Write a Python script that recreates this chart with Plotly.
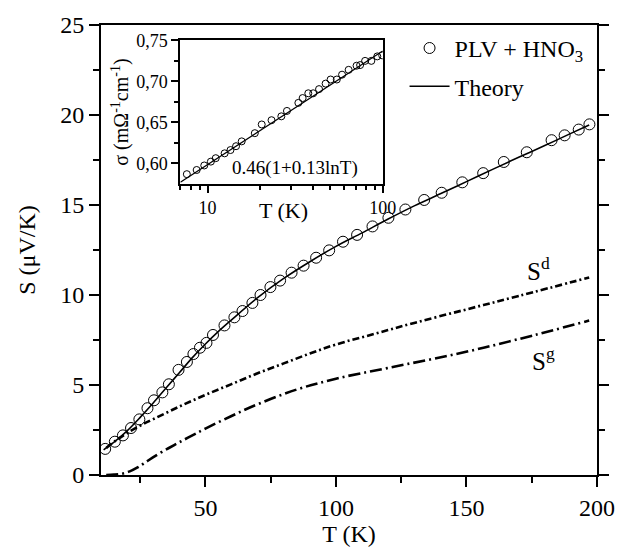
import plotly.graph_objects as go

# ---- main panel data ----
T_data = [11.6, 15.3, 18.4, 21.5, 24.7, 27.8, 30.3, 33.5, 36.0, 39.7, 42.9, 45.4, 47.9, 50.4, 52.9,
          57.3, 61.1, 64.2, 68.0, 71.1, 74.9, 78.6, 83.0, 87.6, 92.4, 97.4, 102.7, 108.1, 114.0,
          120.1, 126.6, 133.8, 140.5, 148.4, 156.4, 164.3, 173.1, 182.6, 187.6, 193.0, 197.1]
S_data = [1.45, 1.85, 2.20, 2.61, 3.09, 3.71, 4.15, 4.59, 5.04, 5.84, 6.28, 6.72, 7.07, 7.34, 7.78,
          8.31, 8.76, 9.11, 9.56, 10.00, 10.44, 10.80, 11.24, 11.63, 12.07, 12.48, 12.96, 13.34, 13.81,
          14.29, 14.75, 15.28, 15.68, 16.26, 16.77, 17.39, 17.93, 18.60, 18.87, 19.19, 19.48]

T_theory = [11, 15, 20, 25, 30, 35, 40, 45, 50, 55, 60, 70, 80, 90, 100, 110, 120, 130, 140,
            150, 160, 170, 180, 190, 197]
S_theory = [1.40, 1.82, 2.45, 3.20, 4.00, 4.85, 5.68, 6.52, 7.28, 7.98, 8.62, 9.85, 10.92, 11.85,
            12.70, 13.45, 14.22, 14.95, 15.62, 16.30, 16.98, 17.65, 18.30, 18.98, 19.45]

T_Sd = [12, 16, 20, 25, 30, 40, 50, 60, 70, 80, 90, 100, 115, 130, 150, 170, 197]
S_d = [1.5, 1.95, 2.33, 2.74, 3.1, 3.8, 4.45, 5.05, 5.65, 6.2, 6.75, 7.25, 7.85, 8.45, 9.2, 9.95, 10.97]

T_Sg = [12, 15, 18, 21, 24, 27, 31, 36, 40, 45, 50, 60, 70, 85, 100, 120, 146, 170, 197]
S_g = [0.0, 0.02, 0.07, 0.2, 0.42, 0.7, 1.08, 1.5, 1.82, 2.2, 2.58, 3.28, 3.93, 4.75, 5.35, 5.95,
       6.72, 7.55, 8.58]

# ---- inset data ----
T_inset = [7.62, 8.67, 9.58, 10.45, 11.14, 12.52, 13.52, 14.55, 15.67, 18.62, 20.39, 23.19, 26.38,
           28.4, 33.0, 34.9, 37.6, 40.1, 43.3, 47.2, 50.4, 54.7, 58.6, 63.9, 70.9, 74.3, 79.3,
           86.1, 93.1, 99.3]
sigma_inset = [0.5868, 0.5919, 0.5974, 0.6021, 0.6063, 0.6122, 0.6162, 0.6209, 0.6268, 0.6368,
               0.6474, 0.6526, 0.6573, 0.6639, 0.6737, 0.6796, 0.6854, 0.6854, 0.6905, 0.6972,
               0.7022, 0.7022, 0.7081, 0.7140, 0.7190, 0.7198, 0.7249, 0.7249, 0.7304, 0.7316]
T_inset_fit = [7.0, 100.0]
sigma_inset_fit = [0.577, 0.737]

x_ticks = [50, 100, 150, 200]
x_minor = [25, 75, 125, 175]
y_ticks = [0, 5, 10, 15, 20, 25]
y_minor = [2.5, 7.5, 12.5, 17.5, 22.5]
inset_y_ticks = [0.60, 0.65, 0.70, 0.75]
inset_y_labels = ["0,60", "0,65", "0,70", "0,75"]
inset_y_minor = [0.625, 0.675, 0.725]
inset_x_ticks = [10, 100]
inset_x_minor = [7, 8, 9, 20, 30, 40, 50, 60, 70, 80, 90]

FONT = "Liberation Serif"

fig = go.Figure()
fig.add_trace(go.Scatter(x=T_Sd, y=S_d, mode="lines", showlegend=False,
                         line=dict(color="black", width=2.6, dash="7px,3px,2px,3px", shape="spline")))
fig.add_trace(go.Scatter(x=T_Sg, y=S_g, mode="lines", showlegend=False,
                         line=dict(color="black", width=2.6, dash="12px,4px,2px,4px", shape="spline")))
fig.add_trace(go.Scatter(x=T_data, y=S_data, mode="markers", name="PLV + HNO<sub>3</sub>",
                         legendgroup="a",
                         marker=dict(symbol="circle-open", size=11, color="black", line=dict(width=1))))
fig.add_trace(go.Scatter(x=T_theory, y=S_theory, mode="lines", name="Theory", legendgroup="b",
                         line=dict(color="black", width=1.6, shape="spline")))

# inset
fig.add_trace(go.Scatter(x=T_inset, y=sigma_inset, mode="markers", showlegend=False,
                         xaxis="x2", yaxis="y2",
                         marker=dict(symbol="circle-open", size=7, color="black", line=dict(width=1))))
fig.add_trace(go.Scatter(x=T_inset_fit, y=sigma_inset_fit, mode="lines", showlegend=False,
                         xaxis="x2", yaxis="y2", line=dict(color="black", width=1.3)))

axis_common = dict(showgrid=False, zeroline=False, showline=True, linecolor="black",
                   ticks="outside", tickcolor="black", color="black")

fig.update_layout(
    width=627, height=554,
    margin=dict(l=101, r=21, t=13, b=71),
    paper_bgcolor="white", plot_bgcolor="white",
    font=dict(family=FONT, size=24, color="black"),
    showlegend=True,
    legend=dict(x=0.612, y=0.998, xanchor="left", yanchor="top", bgcolor="rgba(0,0,0,0)",
                font=dict(family=FONT, size=24), traceorder="grouped", tracegroupgap=4,
                itemwidth=40),
    xaxis=dict(**axis_common, range=[10, 200], tickvals=x_ticks, linewidth=2, tickwidth=2, ticklen=10,
               mirror=True, tickfont=dict(size=24, family=FONT),
               minor=dict(tickvals=x_minor, ticks="outside", ticklen=6, tickwidth=2, tickcolor="black"),
               title=dict(text="T (K)", font=dict(size=24, family=FONT), standoff=4)),
    yaxis=dict(**axis_common, range=[0, 25], tickvals=y_ticks, linewidth=2, tickwidth=2, ticklen=10,
               mirror="ticks", tickfont=dict(size=24, family=FONT),
               minor=dict(tickvals=y_minor, ticks="outside", ticklen=6, tickwidth=2, tickcolor="black"),
               title=dict(text="S (\u03bcV/K)", font=dict(size=24, family=FONT), standoff=18)),
    xaxis2=dict(**axis_common, type="log", range=[0.845, 2.0], domain=[0.160, 0.568], anchor="y2",
                tickvals=inset_x_ticks, ticktext=["10", "100"], linewidth=2, tickwidth=1.5, ticklen=7,
                mirror=True, tickfont=dict(size=18, family=FONT),
                minor=dict(tickvals=inset_x_minor, ticks="outside", ticklen=4, tickwidth=1.5, tickcolor="black")),
    yaxis2=dict(**axis_common, range=[0.575, 0.75], domain=[0.647, 0.966], anchor="x2",
                tickvals=inset_y_ticks, ticktext=inset_y_labels, linewidth=2, tickwidth=1.5, ticklen=7,
                mirror=True, tickfont=dict(size=18, family=FONT),
                minor=dict(tickvals=inset_y_minor, ticks="outside", ticklen=4, tickwidth=1.5, tickcolor="black"),
                title=dict(text="\u03c3 (m\u03a9<sup>-1</sup>cm<sup>-1</sup>)", font=dict(size=20, family=FONT),
                           standoff=2)),
    annotations=[
        dict(x=177.5, y=11.45, xref="x", yref="y", text="S<sup>d</sup>", showarrow=False,
             font=dict(size=25, family=FONT)),
        dict(x=179.5, y=6.45, xref="x", yref="y", text="S<sup>g</sup>", showarrow=False,
             font=dict(size=25, family=FONT)),
        dict(x=0.568, y=0.594, xref="x2 domain", yref="y2", text="0.46(1+0.13lnT)", showarrow=False,
             font=dict(size=19, family=FONT)),
        dict(x=0.51, y=0.588, xref="x2 domain", yref="paper", text="T (K)", showarrow=False,
             yanchor="middle", font=dict(size=22, family=FONT)),
    ],
)

fig.write_html("out.html")
